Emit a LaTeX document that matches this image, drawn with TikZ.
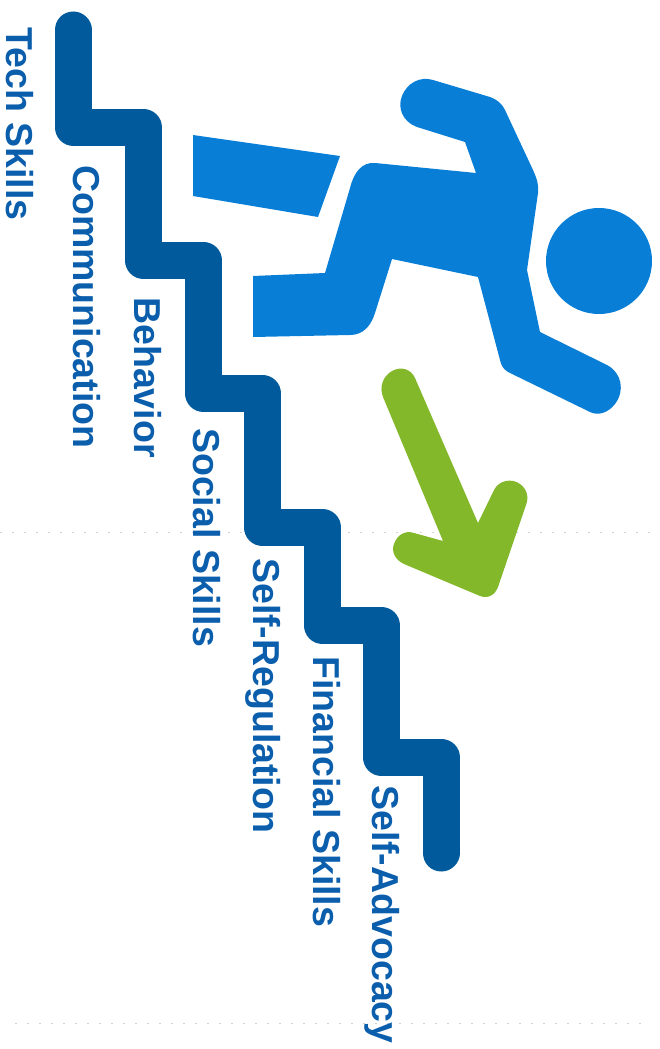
\documentclass[tikz,border=0pt]{standalone}
\usepackage{fontspec}
\setmainfont{Liberation Sans}
\usepackage{xcolor}
\usepackage{tikz}
\definecolor{stairblue}{RGB}{0, 90, 156}
\definecolor{runnerblue}{RGB}{8, 126, 214}
\definecolor{arrowgreen}{RGB}{132, 184, 43}
\definecolor{labelblue}{RGB}{10, 94, 172}
\tikzset{
    skilllabel/.style={rotate=-90, anchor=base west, inner sep=0pt, text=labelblue, font=\bfseries\fontsize{37.5}{38}\selectfont},
    scanline/.style={gray!35, line width=1pt, dash pattern=on 2pt off 10pt}
}

\begin{document}
\begin{tikzpicture}[x=1pt, y=-1pt]
    \useasboundingbox (0,0) rectangle (659,1049);

    % Scan marks
    \draw[scanline] (0,532) -- (659,532);
    \draw[scanline] (15,1023) -- (645,1023);

    % Stairs
    \draw[stairblue, line width=37pt, line cap=round, line join=round]
        (73,30) -- (73,127) -- (143,127) -- (143,260) -- (203,260) -- (203,393)
        -- (262,393) -- (262,527) -- (322,527) -- (322,625) -- (381,625)
        -- (381,757) -- (441,757) -- (441,853);

    % Runner
    \fill[runnerblue] (599,261) circle (53pt);
    \fill[runnerblue] (193,135) -- (340,156) -- (318,217) -- (193,196) -- cycle;
    \fill[runnerblue] (433,80) -- (490,97) .. controls (498,100) and (502,104) .. (505,110)
        -- (533,170) .. controls (537,179) and (539,185) .. (538,193)
        -- (527,270) -- (540,332) -- (607,365)
        .. controls (622,373) and (625,391) .. (615,404)
        .. controls (608,413) and (598,416) .. (590,412)
        -- (508,372) .. controls (503,369) and (501,365) .. (500,360)
        -- (478,277) -- (392,259) -- (375,313)
        .. controls (371,326) and (363,335) .. (350,335)
        -- (253,337) -- (253,276) -- (325,273) -- (350,188)
        .. controls (354,172) and (362,162) .. (375,163)
        -- (476,173) -- (465,142) -- (417,127)
        .. controls (403,122) and (397,108) .. (402,96)
        .. controls (407,83) and (420,76) .. (433,80) -- cycle;

    % Arrow
    \fill[arrowgreen] (415,378) -- (478,523) -- (494,490)
        .. controls (499,480) and (512,478) .. (520,484)
        .. controls (527,489) and (529,497) .. (526,505)
        -- (498,587) .. controls (495,595) and (488,599) .. (480,596)
        -- (404,564) .. controls (395,560) and (391,551) .. (394,544)
        .. controls (397,535) and (405,530) .. (414,533)
        -- (443,541) -- (383,397)
        .. controls (379,387) and (383,376) .. (392,371)
        .. controls (401,366) and (411,369) .. (415,378) -- cycle;

    % Skills
    \node[skilllabel] (techskills) at (6,27) {Tech Skills};
    \node[skilllabel] (communication) at (73,165) {Communication};
    \node[skilllabel] (behavior) at (134,297) {Behavior};
    \node[skilllabel] (socialskills) at (193,428) {Social Skills};
    \node[skilllabel] (selfregulation) at (253,558) {Self-Regulation};
    \node[skilllabel] (financialskills) at (313,656) {Financial Skills};
    \node[skilllabel] (selfadvocacy) at (372,785) {Self-Advocacy};
\end{tikzpicture}
\end{document}
